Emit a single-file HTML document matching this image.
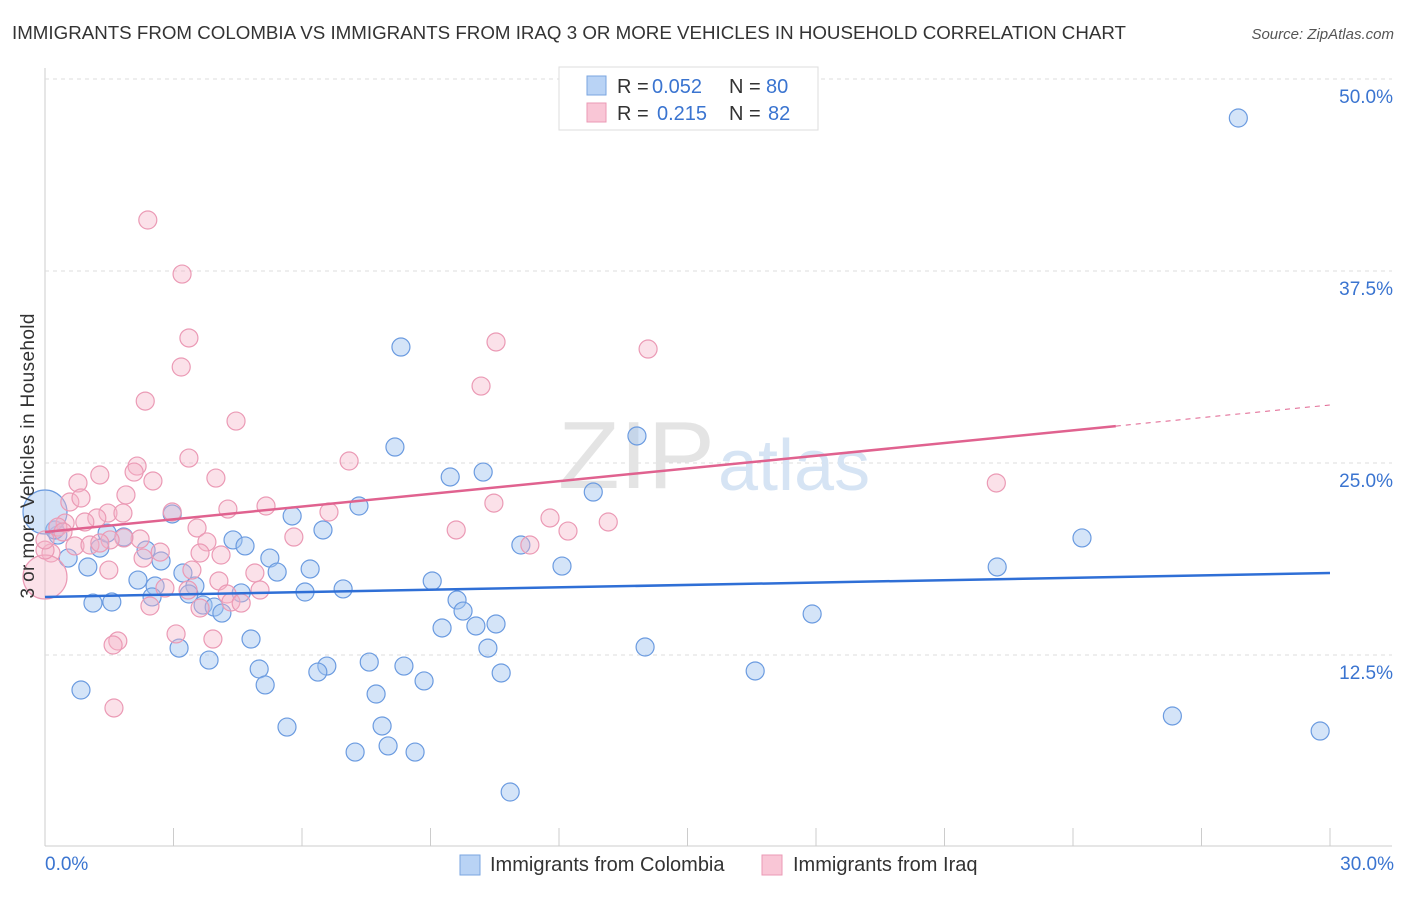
<!DOCTYPE html>
<html><head><meta charset="utf-8"><style>
body{margin:0;background:#fff;font-family:"Liberation Sans",sans-serif;}
svg text{font-family:"Liberation Sans",sans-serif;}
</style></head><body>
<svg width="1406" height="892">
<text x="12" y="39" font-size="18" fill="#333" textLength="1114" lengthAdjust="spacingAndGlyphs">IMMIGRANTS FROM COLOMBIA VS IMMIGRANTS FROM IRAQ 3 OR MORE VEHICLES IN HOUSEHOLD CORRELATION CHART</text>
<text x="1394" y="39" font-size="15" fill="#555" font-style="italic" text-anchor="end">Source: ZipAtlas.com</text>
<g id="grid"></g>
<text x="558" y="488" font-size="96" fill="#e4e4e4" textLength="157" lengthAdjust="spacingAndGlyphs" font-family="Liberation Serif">ZIP</text>
<text x="718" y="490" font-size="72" fill="#d6e4f4">atlas</text>
<g id="pts"></g>
<g id="lines"></g>
<text transform="translate(34,456) rotate(-90)" font-size="19" fill="#333" text-anchor="middle" textLength="285">3 or more Vehicles in Household</text>
<g>
<rect x="559" y="67" width="259" height="63" fill="#fff" stroke="#ddd"/>
<rect x="587" y="76" width="19" height="19" fill="#b9d3f5" stroke="#7aa6e0"/>
<rect x="587" y="103" width="19" height="19" fill="#f9c6d6" stroke="#eb9ab5"/>
<text x="617" y="93" font-size="20" fill="#333">R =</text>
<text x="652" y="93" font-size="20" fill="#3a74d0">0.052</text>
<text x="729" y="93" font-size="20" fill="#333">N =</text>
<text x="766" y="93" font-size="20" fill="#3a74d0">80</text>
<text x="617" y="120" font-size="20" fill="#333">R =</text>
<text x="657" y="120" font-size="20" fill="#3a74d0">0.215</text>
<text x="729" y="120" font-size="20" fill="#333">N =</text>
<text x="768" y="120" font-size="20" fill="#3a74d0">82</text>
</g>
<g>
<rect x="460" y="855" width="20" height="20" fill="#b9d3f5" stroke="#7aa6e0"/>
<text x="490" y="871" font-size="20" fill="#333">Immigrants from Colombia</text>
<rect x="762" y="855" width="20" height="20" fill="#f9c6d6" stroke="#eb9ab5"/>
<text x="793" y="871" font-size="20" fill="#333">Immigrants from Iraq</text>
</g>
</svg>
<script>
const yTicks=[12.5,25,37.5,50];
const yTickLabels=["12.5%","25.0%","37.5%","50.0%"];
const xTickLabels=["0.0%","30.0%"];
const blueX=[27.86,8.31,13.82,8.17,10.23,9.46,12.80,7.33,5.77,2.97,6.49,24.21,11.11,4.39,4.67,1.28,2.36,1.84,1.45,0.30,0.23,0.54,1.00,2.71,5.25,5.42,6.19,12.07,22.23,3.22,2.17,2.57,3.50,2.50,3.36,4.58,6.07,6.96,9.04,9.62,9.76,1.12,1.56,3.69,3.95,4.13,17.91,9.27,10.06,10.53,4.81,10.34,14.01,3.13,3.83,7.57,8.38,5.00,6.58,6.37,10.65,8.85,16.58,5.14,0.84,7.73,5.65,7.87,26.32,29.77,7.24,8.01,8.64,10.86,0];
const blueY=[47.46,32.55,26.76,26.04,24.41,24.09,23.11,22.20,21.55,21.68,20.64,20.12,19.66,19.99,19.60,19.46,19.33,20.18,20.44,20.31,20.64,18.81,18.23,18.62,18.81,17.90,18.10,18.29,18.23,17.84,17.38,16.99,16.99,16.28,16.47,16.54,16.60,16.80,17.32,16.08,15.36,15.88,15.95,15.75,15.62,15.23,15.17,14.26,14.39,14.52,13.54,12.95,13.02,12.95,12.17,12.04,11.78,11.59,11.78,11.39,11.33,10.81,11.46,10.55,10.22,9.96,7.81,7.88,8.53,7.55,6.18,6.58,6.18,3.58,21.81];
const pinkX=[2.40,3.20,3.36,3.18,2.34,4.46,10.53,14.08,10.18,7.10,3.36,2.15,2.08,2.52,3.99,22.21,0.77,1.28,1.89,0.58,0.84,2.97,5.16,4.27,6.63,11.79,10.48,13.15,12.21,9.60,3.55,1.47,1.21,1.82,0.93,0.47,0.30,0.42,2.22,1.84,1.52,0.70,1.05,1.28,11.32,5.81,3.78,2.69,2.29,3.62,4.11,0.14,1.49,4.90,3.43,4.06,2.80,3.34,4.25,5.02,4.34,4.58,3.62,2.45,1.70,1.59,3.06,3.92,1.61,0,0,0];
const pinkY=[40.82,37.30,33.14,31.25,29.03,27.73,32.88,32.42,30.01,25.13,25.32,24.80,24.41,23.83,24.02,23.70,23.70,24.22,22.92,22.46,22.72,21.81,22.20,22.00,21.81,21.42,22.39,21.16,20.57,20.64,20.77,21.74,21.42,21.74,21.16,21.09,20.83,20.51,20.05,20.12,19.99,19.60,19.66,19.79,19.66,20.18,19.86,19.20,18.81,19.14,19.01,19.14,18.03,17.84,18.03,17.32,16.86,16.73,16.47,16.73,15.95,15.88,15.56,15.69,13.41,13.15,13.87,13.54,9.05,17.58,19.33,19.99];
const blueTrend=[16.28,17.84];
const pinkTrend=[20.51,28.78];
const NS="http://www.w3.org/2000/svg";
const X=v=>45+v/30*1285, Y=v=>847-v/12.5*192;
function mk(t,a,p){const e=document.createElementNS(NS,t);for(const k in a)e.setAttribute(k,a[k]);p.appendChild(e);return e;}
const g=document.getElementById('grid');
const ax=mk('line',{x1:45,y1:68,x2:45,y2:846,stroke:'#ccc'},g);


const bx=mk('line',{x1:45,y1:846,x2:1392,y2:846,stroke:'#ccc'},g);


yTicks.forEach((t,i)=>{
 const l=mk('line',{x1:45,y1:Y(t),x2:1392,y2:Y(t),stroke:'#ddd','stroke-dasharray':'4,4'},g);
 
 
 const tx=mk('text',{x:1393,y:Y(t)+24,'font-size':19,fill:'#3a74d0','text-anchor':'end'},g);
 tx.textContent=yTickLabels[i];
 
 
});
for(let i=0;i<=10;i++){
 const l=mk('line',{x1:X(i*3),y1:828,x2:X(i*3),y2:846,stroke:'#ccc'},g);
 
 
}
[[0,'start',45],[30,'end',1394]].forEach((d,i)=>{
 const tx=mk('text',{x:d[2],y:870,'font-size':19,fill:'#3a74d0','text-anchor':d[1]},g);
 tx.textContent=xTickLabels[i];
 
 
});
const p=document.getElementById('pts');
function dots(xs,ys,fill,stroke,name){
 xs.forEach((x,i)=>{
  const big=(x===0&&(ys[i]===21.81||ys[i]===17.58));
  const c=mk('circle',{cx:X(x),cy:Y(ys[i]),r:big?22:9,fill:fill,stroke:stroke,'stroke-width':1.2},p);
  
  
 });
}
dots(blueX,blueY,'rgba(160,196,240,0.45)','#6b9be0','colombia-point');
dots(pinkX,pinkY,'rgba(245,180,200,0.4)','#eb9ab5','iraq-point');
const L=document.getElementById('lines');
const bl=mk('line',{x1:X(0),y1:Y(blueTrend[0]),x2:X(30),y2:Y(blueTrend[1]),stroke:'#2f6fd6','stroke-width':2.5},L);


const pe=pinkTrend[0]+(pinkTrend[1]-pinkTrend[0])*25/30;
const pl=mk('line',{x1:X(0),y1:Y(pinkTrend[0]),x2:X(25),y2:Y(pe),stroke:'#e0628f','stroke-width':2.5},L);


const pd=mk('line',{x1:X(25),y1:Y(pe),x2:X(30),y2:Y(pinkTrend[1]),stroke:'#e0628f','stroke-width':1,'stroke-dasharray':'5,5'},L);


</script>
</body></html>
